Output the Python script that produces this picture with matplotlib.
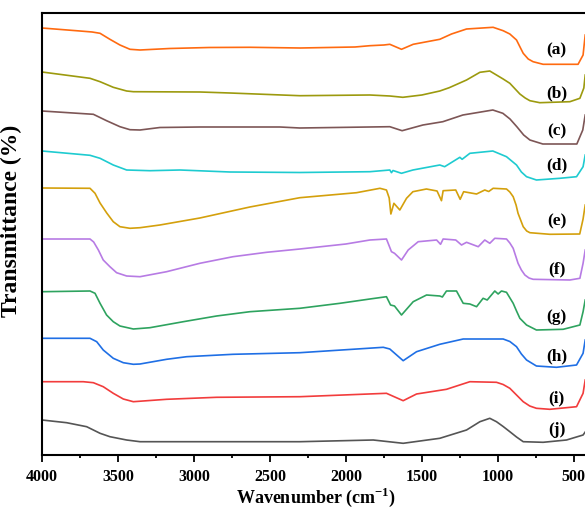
import numpy as np
import matplotlib
matplotlib.use('Agg')
import matplotlib.pyplot as plt
from matplotlib.ticker import MultipleLocator

plt.rcParams['font.family'] = ['Liberation Serif', 'DejaVu Serif']
plt.rcParams['font.weight'] = 'bold'
plt.rcParams['mathtext.fontset'] = 'custom'
plt.rcParams['mathtext.rm'] = 'Liberation Serif:bold'
plt.rcParams['mathtext.bf'] = 'Liberation Serif:bold'

# FTIR spectra (wavenumber, arbitrary stacked transmittance)
wn_a = [4000, 3750, 3670, 3618, 3553, 3487, 3421, 3355, 3160, 2900, 2630, 2300, 1940, 1842, 1750, 1711, 1634, 1557, 1382, 1305, 1206, 1031, 965, 921, 877, 855, 833, 800, 768, 702, 472, 439, 425]
t_a = [472, 469, 468, 466.7, 460.7, 455, 450.7, 450, 451.5, 452.5, 452.7, 452, 453, 454.3, 455, 455.7, 450.7, 455.7, 460.7, 466, 471, 472.7, 469.3, 466, 460, 453.3, 446.7, 441, 438.3, 435.7, 435.7, 445, 465]

wn_b = [4000, 3684, 3618, 3531, 3443, 3399, 2960, 2763, 2303, 1842, 1711, 1625, 1500, 1382, 1320, 1206, 1118, 1053, 1009, 965, 921, 855, 820, 789, 724, 526, 460, 434, 425]
t_b = [428, 421.7, 418.3, 412.7, 409, 408.3, 408, 407, 404.3, 405, 404, 402.7, 405, 409, 412.3, 420, 427.7, 429, 425, 421, 416.7, 406, 402, 399.3, 397.3, 398.3, 401.7, 412, 425]

wn_c = [4000, 3662, 3575, 3487, 3421, 3355, 3224, 2961, 2434, 2303, 1711, 1630, 1493, 1362, 1230, 1033, 967, 920, 875, 830, 789, 704, 480, 441, 425]
t_c = [389, 385.7, 379.3, 373.3, 370.3, 370, 372.5, 373, 373, 372, 373.3, 369.3, 375, 378.3, 385, 390, 386.7, 381, 373.3, 365, 360, 356, 356, 370, 385]

wn_d = [4000, 3684, 3618, 3531, 3443, 3290, 3092, 2763, 2303, 1842, 1711, 1700, 1690, 1634, 1559, 1382, 1350, 1250, 1235, 1184, 1033, 943, 877, 845, 811, 746, 592, 482, 439, 425]
t_d = [349, 344.7, 341.7, 335, 330, 329.3, 330, 328, 327.5, 328.3, 330, 327.3, 329.5, 326.7, 330, 335, 333.3, 342.7, 340.7, 346.7, 349, 343.3, 335, 328, 323.3, 320, 321.7, 323.3, 333.3, 345]

wn_e = [4000, 3684, 3651, 3618, 3574, 3531, 3487, 3421, 3355, 3224, 2961, 2632, 2303, 1930, 1776, 1733, 1715, 1704, 1684, 1645, 1601, 1559, 1470, 1400, 1371, 1360, 1277, 1248, 1225, 1140, 1086, 1060, 1031, 943, 921, 899, 880, 867, 850, 833, 810, 789, 658, 461, 439, 425]
t_e = [312, 311.7, 306.7, 297, 287, 278.3, 273.3, 271.7, 272.3, 275, 282, 293, 302.3, 307.3, 311.7, 310, 302, 286, 296.7, 290, 301.7, 308.3, 311, 309, 299.3, 309.3, 310, 300.7, 308.3, 306, 310, 308.5, 311.7, 311, 308, 303.3, 295, 286.7, 280, 273.3, 269, 267.3, 265.7, 266, 281, 295]

wn_f = [4000, 3684, 3660, 3629, 3597, 3553, 3509, 3443, 3355, 3180, 2961, 2743, 2522, 2303, 2000, 1842, 1733, 1700, 1680, 1634, 1590, 1524, 1403, 1377, 1360, 1277, 1239, 1206, 1129, 1086, 1053, 1020, 943, 921, 899, 867, 845, 822, 795, 768, 526, 460, 439, 425]
t_f = [261, 261, 258, 250, 240, 233.3, 227.3, 224, 223.3, 228.3, 236.7, 243.3, 247.7, 251, 256, 260, 261, 248.3, 246.7, 240, 250, 258.3, 260, 255.7, 261, 260, 255, 257.7, 253.3, 260, 256.7, 261.7, 261, 257, 251.7, 236.7, 230, 225, 222, 220.7, 220, 221.7, 236.7, 250]

wn_g = [4000, 3684, 3651, 3618, 3575, 3531, 3487, 3399, 3290, 3070, 2851, 2632, 2303, 2039, 1842, 1733, 1706, 1680, 1634, 1557, 1469, 1382, 1365, 1338, 1272, 1228, 1184, 1140, 1097, 1070, 1020, 998, 976, 943, 899, 877, 855, 811, 746, 570, 460, 439, 425]
t_g = [208.3, 209, 206.7, 196.7, 185, 178.3, 174, 171, 172.3, 178.3, 184, 188.3, 191.7, 196.7, 201, 203.3, 195, 194, 185, 198.3, 205, 204, 203, 209, 209, 196.7, 196, 193.3, 201.7, 200, 209, 206, 209, 207.7, 196.7, 189, 181.7, 175, 170, 170.7, 175, 188.3, 200]

wn_h = [4000, 3684, 3640, 3597, 3531, 3465, 3399, 3355, 3180, 3048, 2743, 2303, 1754, 1711, 1623, 1535, 1382, 1228, 965, 921, 877, 845, 811, 746, 614, 482, 439, 425]
t_h = [161.7, 161.7, 158.3, 150, 141.7, 137.3, 135.7, 136, 140.7, 143.3, 145.7, 147.3, 152.7, 151, 139.3, 148.3, 155.7, 161, 161, 158.5, 153.3, 146, 140, 134, 132.7, 135, 146.7, 160]

wn_i = [4000, 3728, 3662, 3597, 3531, 3465, 3399, 3180, 2851, 2303, 1733, 1623, 1535, 1338, 1184, 1009, 965, 921, 877, 833, 790, 746, 658, 482, 439, 425]
t_i = [118.3, 118.3, 117.3, 113.3, 106.7, 101, 98.3, 100.7, 102.7, 103.3, 106.7, 99.3, 106, 110.7, 118.3, 117.7, 115.5, 111.7, 105, 98.3, 94, 91.7, 90.7, 93.3, 106.7, 120]

wn_j = [4000, 3838, 3706, 3618, 3553, 3443, 3355, 2303, 1820, 1623, 1382, 1206, 1118, 1053, 1009, 965, 921, 877, 833, 702, 548, 439, 425]
t_j = [80, 77.3, 73.3, 66.7, 63.3, 60, 58.3, 58.3, 60, 56.7, 61.7, 70, 78.3, 81.7, 78.3, 73.5, 68.3, 63, 58.3, 57.7, 60, 65, 68]

labels = ['(a)', '(b)', '(c)', '(d)', '(e)', '(f)', '(g)', '(h)', '(i)', '(j)']
label_y = [450, 406.7, 368.3, 334.3, 278.3, 230.7, 183.3, 144, 101.7, 70]
colors = ['#FF6A10', '#9C9A0E', '#7D5656', '#1ECBD0', '#D4A00C',
          '#B77BE4', '#2EA35F', '#1F6FE5', '#F23C3C', '#555555']

spectra = [(wn_a, t_a), (wn_b, t_b), (wn_c, t_c), (wn_d, t_d), (wn_e, t_e),
           (wn_f, t_f), (wn_g, t_g), (wn_h, t_h), (wn_i, t_i), (wn_j, t_j)]

fig = plt.figure(figsize=(5.85, 5.08), dpi=100)
ax = fig.add_axes([42/585, 53/508, 547/585, 442/508])

for (wn, t), c in zip(spectra, colors):
    ax.plot(wn, t, color=c, linewidth=1.2)

for lab, yy in zip(labels, label_y):
    ax.text(612, yy, lab, ha='center', va='center', fontsize=12.5, fontweight='bold')

ax.set_xlim(4000, 400)
ax.set_ylim(45, 487)
ax.set_yticks([])
ax.xaxis.set_major_locator(MultipleLocator(500))
ax.xaxis.set_minor_locator(MultipleLocator(250))
ax.tick_params(axis='x', which='major', direction='out', length=5, width=1.3, labelsize=11.5, pad=5)
ax.tick_params(axis='x', which='minor', direction='out', length=2.5, width=1.3)
for lab in ax.get_xticklabels():
    lab.set_fontweight('bold')
for s in ['left', 'bottom', 'top', 'right']:
    ax.spines[s].set_linewidth(1.5)

ax.set_xlabel('Wavenumber (cm$^{\\mathbf{-1}}$)', fontsize=13, fontweight='bold')
ax.xaxis.set_label_coords(0.5, -0.069)
ax.set_ylabel('Transmittance (%)', fontsize=17, fontweight='bold')
ax.yaxis.set_label_coords(-0.037, 0.53)

fig.savefig('out.png', dpi=100)
